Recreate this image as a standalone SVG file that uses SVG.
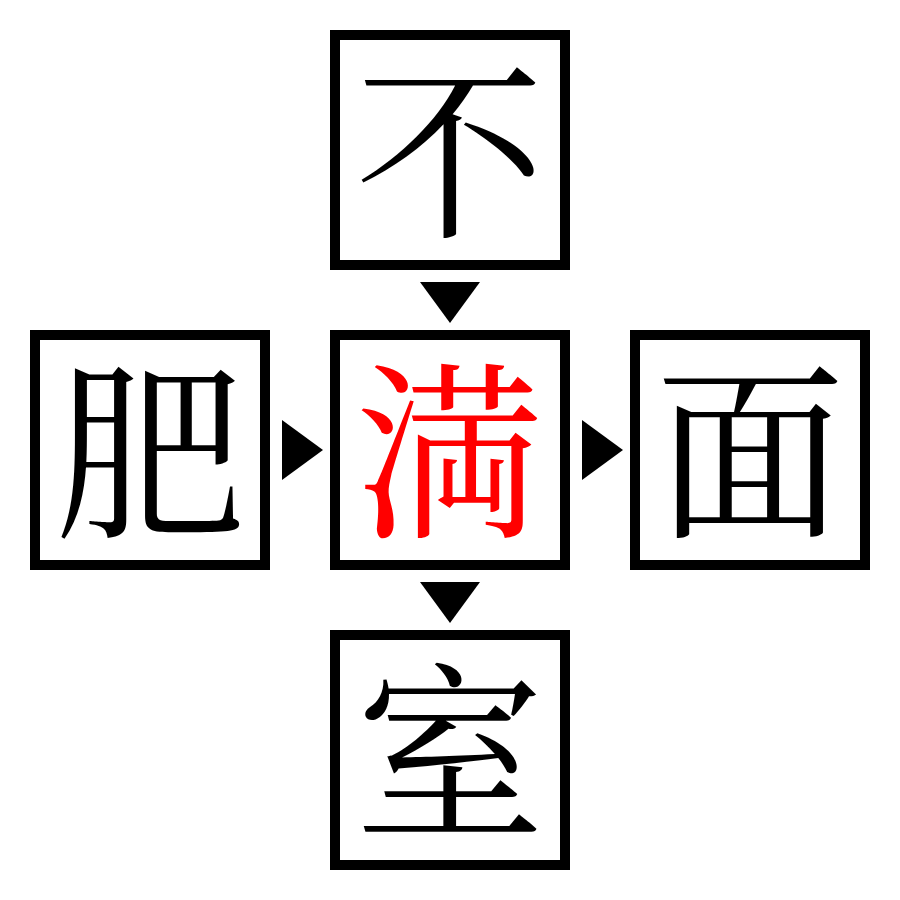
<svg xmlns="http://www.w3.org/2000/svg" width="900" height="900" viewBox="0 0 900 900">
<style>
.box{fill:#fff;stroke:#000;stroke-width:10}
.ch{font-family:"Noto Serif CJK SC","Noto Sans CJK SC","Noto Sans CJK JP",serif;font-size:190px;text-anchor:middle;dominant-baseline:central}
.arr{fill:#000}
</style>
<rect width="900" height="900" fill="#fff"/>
<g id="node-top"><rect class="box" x="335" y="35" width="230" height="230"/><text class="ch" x="450" y="140">不</text></g>
<g id="node-left"><rect class="box" x="35" y="335" width="230" height="230"/><text class="ch" x="150" y="440">肥</text></g>
<g id="node-center"><rect class="box" x="335" y="335" width="230" height="230"/><text class="ch" x="450" y="440" fill="#ff0000">満</text></g>
<g id="node-right"><rect class="box" x="635" y="335" width="230" height="230"/><text class="ch" x="750" y="440">面</text></g>
<g id="node-bottom"><rect class="box" x="335" y="635" width="230" height="230"/><text class="ch" x="450" y="740">室</text></g>
<g id="connectors">
<polygon class="arr" points="420,282 480,282 450,323"/>
<polygon class="arr" points="282,420 282,480 323,450"/>
<polygon class="arr" points="582,420 582,480 623,450"/>
<polygon class="arr" points="420,582 480,582 450,623"/>
</g>
</svg>
